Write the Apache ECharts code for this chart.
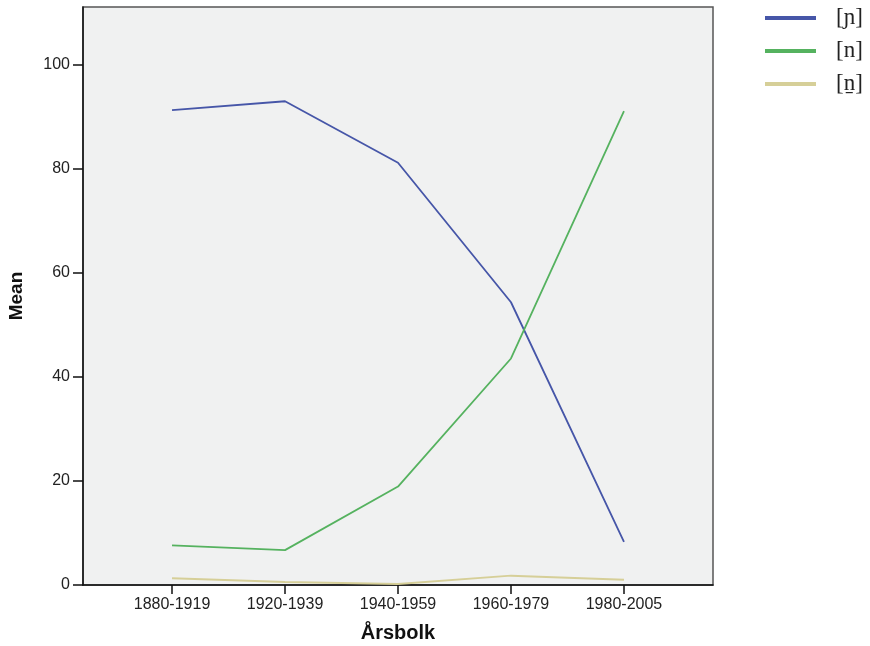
<!DOCTYPE html>
<html><head><meta charset="utf-8">
<script src="https://cdn.jsdelivr.net/npm/echarts@6/dist/echarts.min.js"></script>
<style>html,body{margin:0;padding:0;background:#fff}#c{width:870px;height:646px}</style>
</head><body><div id="c"></div>
<script>
const categories = ['1880-1919','1920-1939','1940-1959','1960-1979','1980-2005'];
const seriesNames = ['[ɲ]','[n]','[n̠]'];
const palatal = [91.2, 92.9, 81.1, 54.3, 8.3];
const alveolar = [7.6, 6.7, 18.9, 43.5, 91.0];
const retracted = [1.3, 0.6, 0.2, 1.8, 1.0];
const yTicks = [0, 20, 40, 60, 80, 100];
const colors = ['#4656a8', '#55b25f', '#d6cf98'];

const idx = categories.map((_, i) => i);
const toPairs = arr => arr.map((v, i) => [i, v]);
const chart = echarts.init(document.getElementById('c'), null, {renderer: 'canvas'});
const lbl = {fontFamily: 'Arial, "Liberation Sans", sans-serif', fontSize: 16, color: '#222'};
chart.setOption({
  animation: false,
  grid: {left: 83, top: 7, right: 157, bottom: 61, show: true, backgroundColor: '#f0f1f1', borderColor: '#555', borderWidth: 1.5, outerBoundsMode: 'none', containLabel: false},
  legend: {
    orient: 'vertical', left: 760, top: 0, itemWidth: 51, itemHeight: 4, itemGap: 7,
    icon: 'rect',
    data: seriesNames,
    textStyle: {fontFamily: '"Liberation Serif", "DejaVu Serif", serif', fontSize: 23, color: '#222', padding: [0, 0, 0, 15], lineHeight: 26}
  },
  xAxis: {
    type: 'value', min: -0.788, max: 4.788,
    axisLine: {show: true, onZero: false, lineStyle: {color: '#111', width: 1.5}},
    axisTick: {show: true, customValues: idx, length: 9, lineStyle: {color: '#111', width: 1.5}},
    axisLabel: Object.assign({customValues: idx, margin: 12, formatter: v => categories[Math.round(v)]}, lbl),
    splitLine: {show: false},
    name: 'Årsbolk', nameLocation: 'middle', nameGap: 38,
    nameTextStyle: {fontFamily: 'Arial, "Liberation Sans", sans-serif', fontWeight: 'bold', fontSize: 20, color: '#111'}
  },
  yAxis: {
    type: 'value', min: 0, max: 111,
    axisLine: {show: true, onZero: false, lineStyle: {color: '#111', width: 1.5}},
    axisTick: {show: true, customValues: yTicks, length: 10, lineStyle: {color: '#111', width: 1.5}},
    axisLabel: Object.assign({customValues: yTicks, margin: 13}, lbl),
    splitLine: {show: false},
    name: 'Mean', nameLocation: 'middle', nameGap: 57, nameRotate: 90,
    nameTextStyle: {fontFamily: 'Arial, "Liberation Sans", sans-serif', fontWeight: 'bold', fontSize: 19, color: '#111'}
  },
  series: [palatal, alveolar, retracted].map((arr, i) => ({
    name: seriesNames[i], type: 'line', data: toPairs(arr), symbol: 'none',
    color: colors[i], lineStyle: {color: colors[i], width: i === 2 ? 2 : 1.8}
  }))
});
</script></body></html>
